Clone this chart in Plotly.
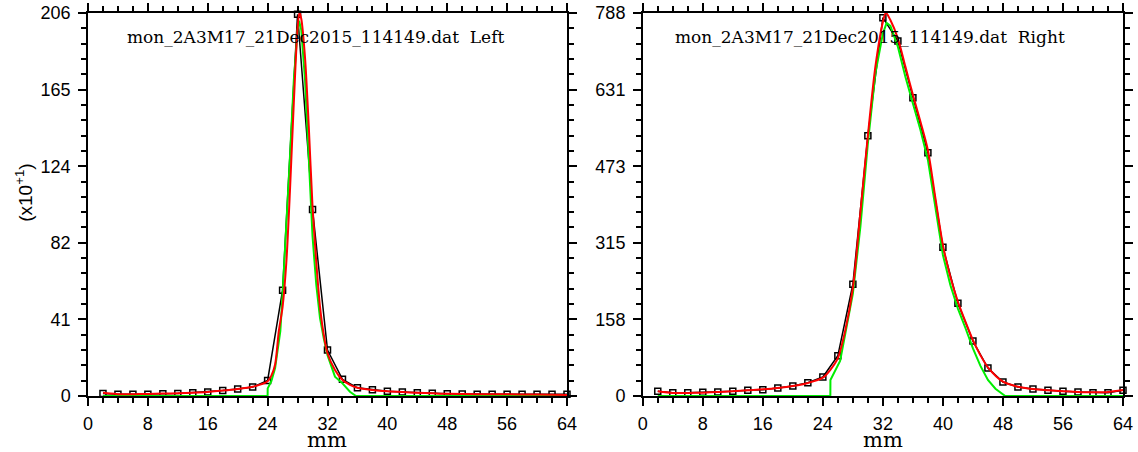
import plotly.graph_objects as go

# ---------------- data (values in units of x10) ----------------
pos_mm = [2, 4, 6, 8, 10, 12, 14, 16, 18, 20, 22, 24, 26, 28, 30, 32,
          34, 36, 38, 40, 42, 44, 46, 48, 50, 52, 54, 56, 58, 60, 62, 64]

left_meas = [1.4, 0.9, 0.9, 0.9, 1.2, 1.4, 1.8, 2.2, 2.9, 3.8, 4.8, 8.4,
             57.0, 205.5, 100.4, 24.7, 9.0, 4.4, 3.4, 2.5, 2.2, 1.8, 1.5, 1.2,
             1.1, 1.0, 0.9, 0.9, 0.9, 0.9, 0.9, 0.9]

left_fit_x = [2, 3, 4, 6, 8, 10, 12, 14, 16, 18, 20, 22, 23, 24,
              24.5, 25, 25.5, 26, 26.5, 27, 27.5, 28, 28.25, 28.5,
              29, 29.5, 30, 30.5, 31, 31.5, 32, 33, 34, 35, 36,
              38, 40, 42, 44, 46, 48, 52, 56, 60, 64]
left_fit_y = [1.8, 1.3, 1.0, 1.0, 1.1, 1.3, 1.5, 1.8, 2.2, 2.9, 3.8, 5.0, 6.1, 8.0,
              11, 17, 35, 48, 72, 112, 158, 198, 206.5, 203,
              182, 145, 102, 72, 48, 33, 23, 14, 8.6, 6.0, 4.4,
              3.2, 2.5, 2.1, 1.8, 1.5, 1.2, 1.0, 0.9, 0.8, 0.6]

left_g_x = [2, 24, 24.01, 24.5, 25, 25.5, 25.7, 26, 26.5, 27, 27.5, 28, 28.2, 28.5,
            29, 29.5, 29.75, 30, 30.5, 31, 31.5, 32, 33, 34, 35, 35.8, 64]
left_g_y = [0, 0, 4.1, 8, 15, 28, 35, 55, 90, 130, 170, 197, 202, 197,
            170, 128, 100, 86, 60, 42, 31, 22, 10.4, 6.8, 2.3, 0, 0]

right_meas = [9.7, 6.8, 6.8, 7.5, 8.2, 9.6, 11.7, 13.0, 16.5, 20.6, 27.5, 39.1,
              83.0, 230, 535.8, 778.7, 730.7, 614, 500.8, 306, 190.7, 113, 57.6, 28.8,
              18.5, 14.4, 11.7, 9.7, 8.2, 6.8, 6.8, 11.7]

right_fit_x = [2, 4, 6, 8, 10, 12, 14, 16, 18, 20, 22, 24,
               25, 26, 27, 28, 29, 30, 31, 32, 32.4, 33,
               34, 35, 36, 37, 38, 39, 40, 41, 42, 43, 44, 45, 46,
               48, 50, 52, 54, 56, 58, 60, 62, 64]
right_fit_y = [9.6, 6.2, 6.2, 6.9, 8.2, 9.6, 11.7, 13.7, 16.5, 20.6, 26.8, 37.7,
               54, 78, 136, 222, 377, 536, 678, 770, 789, 774,
               736, 678, 620, 565, 506, 407, 311, 245, 194, 153, 115, 84, 59,
               29.5, 19.2, 14.4, 11.7, 9.6, 8.2, 7.5, 8.2, 12.4]

right_g_x = [2, 25, 25.01, 26, 26.3, 27, 28, 29, 30, 31,
             32, 32.5, 33, 34, 35, 36, 37, 38, 39, 40,
             41, 42, 43, 44, 45, 46, 47, 48, 48.3, 64]
right_g_y = [0, 0, 33, 62, 72, 129, 211, 348, 520, 664,
             746, 768, 762, 719, 657, 602, 548, 486, 390, 290,
             228, 180, 140, 98, 62, 33, 15, 3, 0, 0]

x_ticks = [0, 8, 16, 24, 32, 40, 48, 56, 64]
left_ymax = 206.2
right_ymax = 788.4
left_ytext = ["0", "41", "82", "124", "165", "206"]
right_ytext = ["0", "158", "315", "473", "631", "788"]

left_title = "mon_2A3M17_21Dec2015_114149.dat  Left"
right_title = "mon_2A3M17_21Dec2015_114149.dat  Right"

# ---------------- figure ----------------
fig = go.Figure()

def add_panel(xa, ya, meas, fx, fy, gx, gy):
    fig.add_trace(go.Scatter(x=pos_mm, y=meas, mode="lines+markers",
                             line=dict(color="black", width=1.5),
                             marker=dict(symbol="square-open", size=6,
                                         color="black", line=dict(width=1.5)),
                             cliponaxis=False, showlegend=False,
                             xaxis=xa, yaxis=ya))
    fig.add_trace(go.Scatter(x=gx, y=gy, mode="lines",
                             line=dict(color="#00ee00", width=2),
                             showlegend=False, xaxis=xa, yaxis=ya))
    fig.add_trace(go.Scatter(x=fx, y=fy, mode="lines",
                             line=dict(color="#ff0000", width=2, shape="spline", smoothing=0.8),
                             showlegend=False, xaxis=xa, yaxis=ya))

add_panel("x", "y", left_meas, left_fit_x, left_fit_y, left_g_x, left_g_y)
add_panel("x2", "y2", right_meas, right_fit_x, right_fit_y, right_g_x, right_g_y)

tickfont = dict(family="Liberation Sans, Arial", size=18, color="black")

def xaxis_cfg(domain):
    return dict(domain=domain, range=[0, 64], tickmode="array", tickvals=x_ticks,
                automargin=False, ticklabelstandoff=3, ticklabeloverflow="allow",
                ticks="outside", ticklen=8, tickwidth=1.5, tickcolor="black",
                minor=dict(tickmode="linear", tick0=0, dtick=2, ticks="outside",
                           ticklen=5, tickwidth=1.5, tickcolor="black"),
                showline=True, linewidth=1.5, linecolor="black", mirror="allticks",
                showgrid=False, zeroline=False, tickfont=tickfont)

def yaxis_cfg(ymax, texts, anchor):
    step = ymax / 5
    return dict(domain=[0, 1], range=[0, ymax], anchor=anchor, tickmode="array",
                automargin=False, ticklabelstandoff=4, ticklabeloverflow="allow",
                tickvals=[step * i for i in range(6)], ticktext=texts,
                ticks="outside", ticklen=8, tickwidth=1.5, tickcolor="black",
                minor=dict(tickmode="linear", tick0=0, dtick=step / 5, ticks="outside",
                           ticklen=5, tickwidth=1.5, tickcolor="black"),
                showline=True, linewidth=1.5, linecolor="black", mirror="allticks",
                showgrid=False, zeroline=False, tickfont=tickfont)

serif = dict(family="DejaVu Serif", size=17, color="black")
mmfont = dict(family="DejaVu Serif", size=21, color="black")
fig.update_layout(
    template="none",
    width=1138, height=452,
    margin=dict(l=88, r=15, t=13, b=56),
    paper_bgcolor="white", plot_bgcolor="white",
    xaxis=xaxis_cfg([0, 0.4628]),
    xaxis2=dict(xaxis_cfg([0.536, 1.0]), anchor="y2"),
    yaxis=yaxis_cfg(left_ymax, left_ytext, "x"),
    yaxis2=yaxis_cfg(right_ymax, right_ytext, "x2"),
    annotations=[
        dict(text=left_title, x=5, y=0.937, xref="x", yref="y domain",
             xanchor="left", yanchor="middle", showarrow=False, font=serif),
        dict(text=right_title, x=4, y=0.937, xref="x2", yref="y2 domain",
             xanchor="left", yanchor="middle", showarrow=False, font=serif),
        dict(text="mm", x=0.5, y=-0.078, xref="x domain", yref="y domain",
             xanchor="center", yanchor="top", showarrow=False, font=mmfont),
        dict(text="mm", x=0.5, y=-0.078, xref="x2 domain", yref="y2 domain",
             xanchor="center", yanchor="top", showarrow=False, font=mmfont),
        dict(text="(x10<sup>+1</sup>)", x=-0.062, y=0.53, xref="paper", yref="paper",
             xanchor="center", yanchor="middle", textangle=-90, showarrow=False,
             font=dict(family="Liberation Sans, Arial", size=19, color="black")),
    ],
)

# remove the default 8px body margin so the figure fills the window exactly
fig.write_html("out.html", config={"displayModeBar": False},
               post_script="document.body.style.margin='0';document.body.style.overflow='hidden';")
